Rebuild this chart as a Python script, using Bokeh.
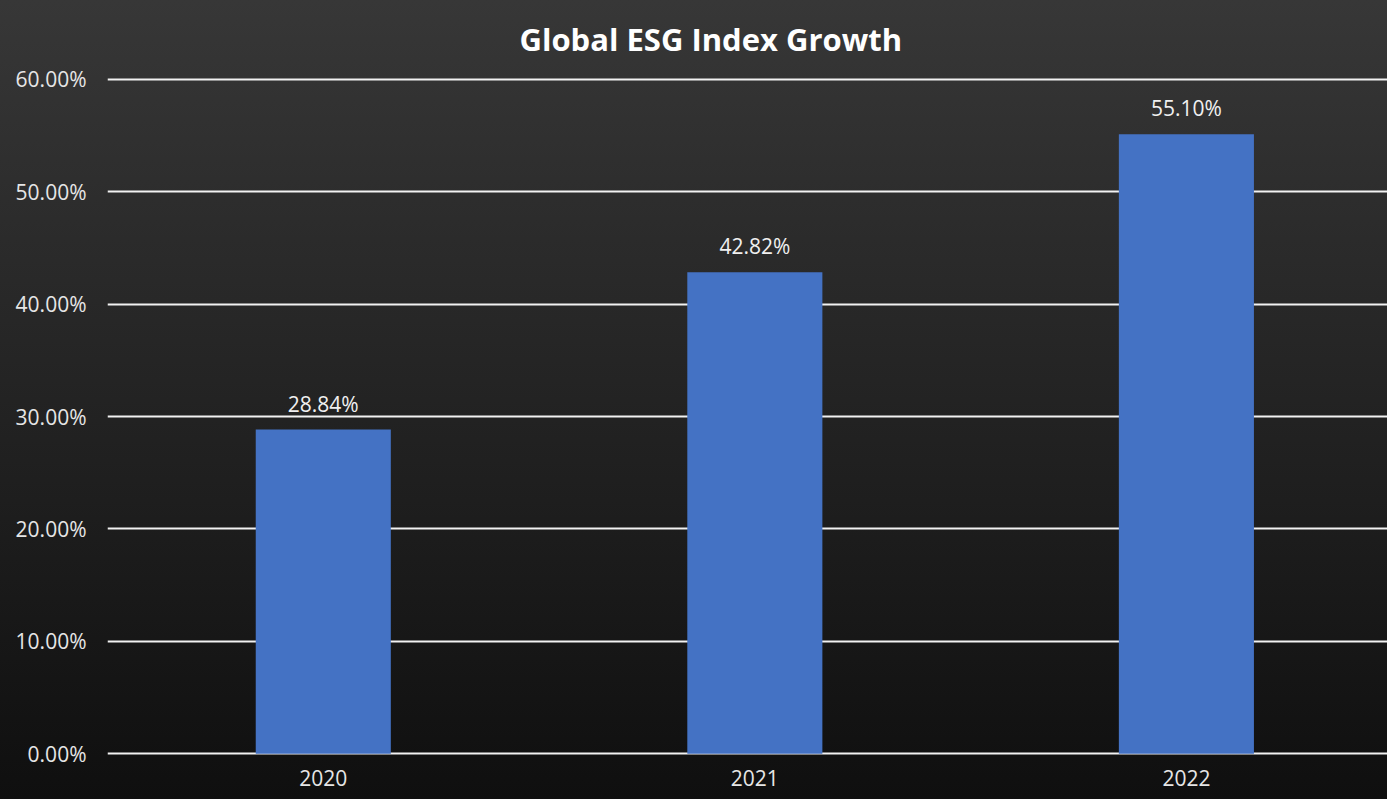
from bokeh.plotting import figure
from bokeh.models import (ColumnDataSource, LabelSet, NumeralTickFormatter, FixedTicker,
                          Title, Range1d, PrintfTickFormatter)
from bokeh.core.properties import value
from bokeh.embed import file_html
from bokeh.resources import INLINE

title_text = "Global ESG Index Growth"
years = [2020, 2021, 2022]
growth = [0.2884, 0.4282, 0.5510]
labels = ["28.84%", "42.82%", "55.10%"]
y_ticks = [0.0, 0.1, 0.2, 0.3, 0.4, 0.5, 0.6]

src = ColumnDataSource(dict(year=years, growth=growth, label=labels))

FONT = "Open Sans"
p = figure(x_range=Range1d(2019.5, 2022.466), y_range=Range1d(-0.0015, 0.6015),
           frame_width=1280, frame_height=678,
           output_backend="svg", toolbar_location=None,
           min_border_left=107, min_border_right=0, min_border_top=77, min_border_bottom=44)
p.styles = {"background": "linear-gradient(to bottom, #373737 0%, #0f0f0f 100%)"}
p.background_fill_alpha = 0
p.border_fill_alpha = 0
p.outline_line_color = None

p.add_layout(Title(text=title_text, align="left", vertical_align="top",
                   text_font=FONT, text_font_size="31px", text_font_style="bold",
                   text_color="#ffffff", standoff=32, offset=412), "above")

p.ygrid.ticker = FixedTicker(ticks=y_ticks)
p.ygrid.grid_line_color = "#f2f2f2"
p.ygrid.grid_line_width = 2
p.xgrid.grid_line_color = None

p.vbar(x="year", top="growth", width=0.313, source=src, color="#4472C4", line_color=None)

p.add_layout(LabelSet(x="year", y="growth", text="label", source=src, text_align="center",
                      text_baseline="bottom", y_offset=12, text_font=value(FONT),
                      text_font_size="21px", text_color="#f0f0f0"))

p.yaxis.ticker = FixedTicker(ticks=y_ticks)
p.yaxis.formatter = NumeralTickFormatter(format="0.00%")
p.xaxis.ticker = FixedTicker(ticks=years)
p.xaxis.formatter = PrintfTickFormatter(format="%d")
for ax in (p.xaxis, p.yaxis):
    ax.axis_line_color = None
    ax.major_tick_line_color = None
    ax.minor_tick_line_color = None
    ax.major_tick_out = 0
    ax.minor_tick_out = 0
    ax.major_label_text_font = FONT
    ax.major_label_text_font_size = "21px"
    ax.major_label_text_color = "#e6e6e6"
p.yaxis.major_label_standoff = 21
p.xaxis.major_label_standoff = 14

open("out.html", "w").write(file_html(p, INLINE))
